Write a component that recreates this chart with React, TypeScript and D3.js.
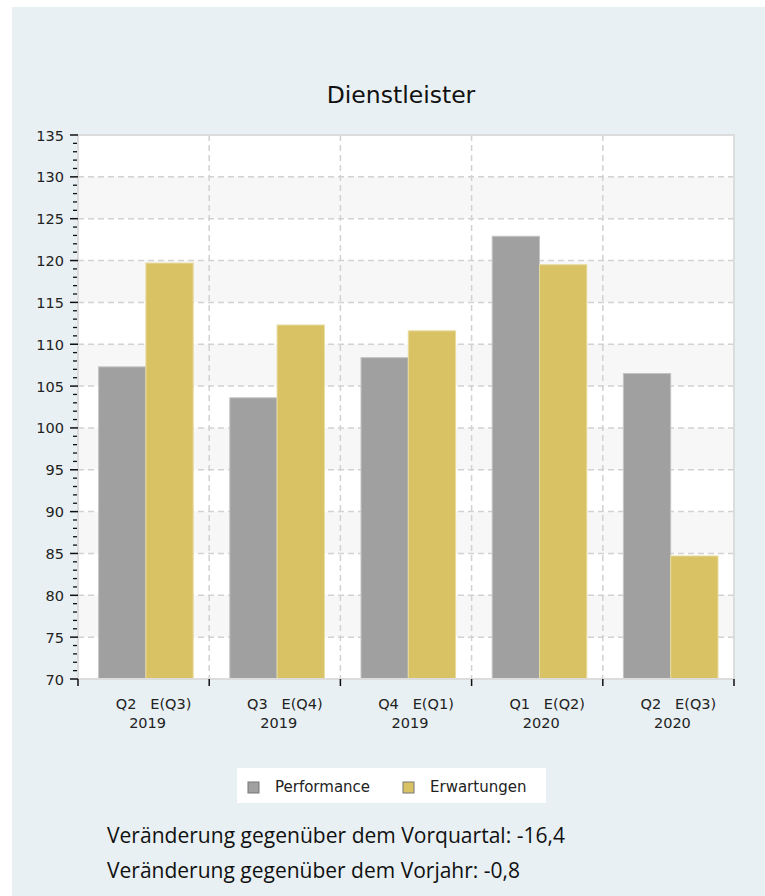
import React from "react";
import * as d3 from "d3";

const categories = ["Q2 2019", "Q3 2019", "Q4 2019", "Q1 2020", "Q2 2020"];
const quarterLabels = ["Q2   E(Q3)", "Q3   E(Q4)", "Q4   E(Q1)", "Q1   E(Q2)", "Q2   E(Q3)"];
const yearLabels = ["2019", "2019", "2019", "2020", "2020"];
const seriesNames = ["Performance", "Erwartungen"];
const performance = [107.3, 103.6, 108.4, 122.9, 106.5];
const erwartungen = [119.7, 112.3, 111.6, 119.5, 84.7];
const yTicks = [70, 75, 80, 85, 90, 95, 100, 105, 110, 115, 120, 125, 130, 135];
const notes = [
  "Veränderung gegenüber dem Vorquartal: -16,4",
  "Veränderung gegenüber dem Vorjahr: -0,8",
];
const noteWidths = [458, 413];

const W = 765;
const H = 896;
const plot = { left: 78, right: 734, top: 135, bottom: 679 };
const colors = ["#a0a0a0", "#d8c264"];
const strokes = ["#c4c4c4", "#e8dba0"];
const font = "'DejaVu Sans', sans-serif";

export default function App() {
  const y = d3.scaleLinear().domain([70, 135]).range([plot.bottom, plot.top]);
  const x = d3.scaleBand<string>().domain(categories).range([plot.left, plot.right]).padding(0);
  const bw = x.bandwidth();
  const inner = d3
    .scaleBand<string>()
    .domain(seriesNames)
    .range([bw * 0.157, bw * 0.878])
    .padding(0);
  const values = [performance, erwartungen];
  const minorTicks = d3.range(70, 136, 1).filter((v) => v % 5 !== 0);
  const bands = d3.range(70, 135, 5);

  return (
    <svg
      width={W}
      height={H}
      style={{ position: "absolute", left: 0, top: 0 }}
      viewBox={`0 0 ${W} ${H}`}
    >
      <rect x={0} y={0} width={W} height={H} fill="#ffffff" />
      <rect x={12} y={7} width={W - 12} height={H - 7} fill="#e8f0f3" />

      <text x={401} y={103} textAnchor="middle" fontFamily={font} fontSize={23.5} fill="#111">
        Dienstleister
      </text>

      {/* plot background with alternating bands */}
      <rect
        x={plot.left}
        y={plot.top}
        width={plot.right - plot.left}
        height={plot.bottom - plot.top}
        fill="#ffffff"
      />
      {bands.map((v, i) =>
        (135 - v - 5) / 5 % 2 === 1 ? (
          <rect
            key={"b" + i}
            x={plot.left}
            y={y(v + 5)}
            width={plot.right - plot.left}
            height={y(v) - y(v + 5)}
            fill="#f7f7f7"
          />
        ) : null
      )}

      {/* grid */}
      {yTicks.slice(1, -1).map((v) => (
        <line
          key={"gy" + v}
          x1={plot.left}
          x2={plot.right}
          y1={y(v)}
          y2={y(v)}
          stroke="#d2d2d2"
          strokeWidth={1.5}
          strokeDasharray="6,4"
        />
      ))}
      {categories.slice(1).map((c) => (
        <line
          key={"gx" + c}
          x1={x(c)!}
          x2={x(c)!}
          y1={plot.top}
          y2={plot.bottom}
          stroke="#d2d2d2"
          strokeWidth={1.5}
          strokeDasharray="6,4"
        />
      ))}

      {/* bars */}
      {categories.map((c, i) =>
        seriesNames.map((s, j) => {
          const v = values[j][i];
          return (
            <rect
              key={c + s}
              x={x(c)! + inner(s)!}
              y={y(v)}
              width={inner.bandwidth()}
              height={plot.bottom - y(v)}
              fill={colors[j]}
              stroke={strokes[j]}
              strokeWidth={1}
            />
          );
        })
      )}

      {/* plot border */}
      <rect
        x={plot.left}
        y={plot.top}
        width={plot.right - plot.left}
        height={plot.bottom - plot.top}
        fill="none"
        stroke="#dcdcdc"
        strokeWidth={2}
      />

      {/* y axis ticks and labels */}
      {yTicks.map((v) => (
        <g key={"yt" + v}>
          <line x1={70} x2={78} y1={y(v)} y2={y(v)} stroke="#111" strokeWidth={1.5} />
          <text
            x={64}
            y={y(v) + 5.5}
            textAnchor="end"
            fontFamily={font}
            fontSize={14.5}
            fill="#222"
          >
            {v}
          </text>
        </g>
      ))}
      {minorTicks.map((v) => (
        <line key={"ym" + v} x1={73} x2={77} y1={y(v)} y2={y(v)} stroke="#111" strokeWidth={1.3} />
      ))}

      {/* x axis ticks and labels */}
      {[...categories.map((c) => x(c)!), plot.right].map((px, i) => (
        <line key={"xt" + i} x1={px} x2={px} y1={plot.bottom} y2={plot.bottom + 7} stroke="#111" strokeWidth={1.5} />
      ))}
      {categories.map((c, i) => {
        const cx = x(c)! + bw / 2;
        return (
          <g key={"xl" + c} fontFamily={font} fontSize={14.5} fill="#222">
            <text x={cx + 10} y={709} textAnchor="middle" xmlSpace="preserve" style={{ whiteSpace: "pre" }}>
              {quarterLabels[i]}
            </text>
            <text x={cx + 4} y={728} textAnchor="middle">
              {yearLabels[i]}
            </text>
          </g>
        );
      })}

      {/* legend */}
      <rect x={237} y={768} width={309} height={35} fill="#ffffff" />
      {seriesNames.map((s, j) => {
        const lx = j === 0 ? 248 : 403;
        return (
          <g key={"lg" + s}>
            <rect x={lx} y={782} width={11} height={11} fill={colors[j]} stroke="#777" strokeWidth={1} />
            <text x={lx + 27} y={792} fontFamily={font} fontSize={15} fill="#222">
              {s}
            </text>
          </g>
        );
      })}

      {/* notes */}
      {notes.map((t, i) => (
        <text
          key={"n" + i}
          x={107}
          y={843 + i * 35}
          fontFamily="'Open Sans', sans-serif"
          fontSize={21.5}
          textLength={noteWidths[i]}
          lengthAdjust="spacingAndGlyphs"
          fill="#111"
        >
          {t}
        </text>
      ))}
    </svg>
  );
}
